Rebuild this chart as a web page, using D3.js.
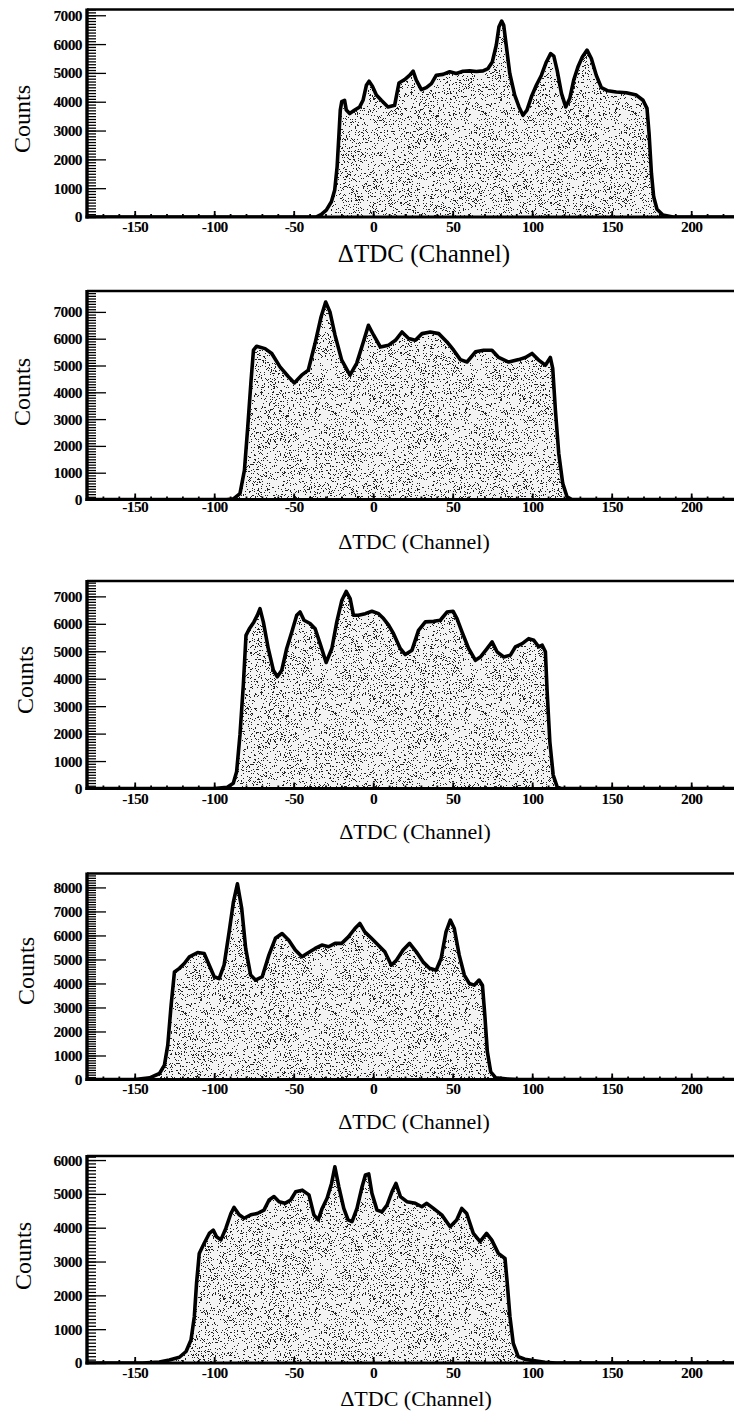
<!DOCTYPE html>
<html>
<head>
<meta charset="utf-8">
<script src="https://cdn.jsdelivr.net/npm/d3@7"></script>
<style>
  html, body { margin: 0; padding: 0; background: #fff; }
  svg { display: block; }
</style>
</head>
<body>
<div id="chart"></div>
<script>
// ---------------- DATA ----------------
const xTitle = "\u0394TDC (Channel)";
const yTitle = "Counts";
const xMajorTicks = [-150, -100, -50, 0, 50, 100, 150, 200];
const xDomain = [-180, 232];

// Panel 1
const ch1 = [-180,-36,-32.6,-29.5,-26.3,-24.2,-22.7,-21.5,-20.7,-19.8,-18,-16.9,-14.8,-11.6,-8.5,-6.4,-4.3,-2.6,-0.5,2,5.1,9.3,13.5,16.2,19.8,23,25.1,27.1,30.3,33.4,36.6,39.7,43.9,48.1,52.3,56.5,60.7,64.9,69.1,72.2,74.9,77.4,79.1,80.8,82.1,83.8,85.9,89,91.7,94.2,96.7,99.5,102.6,105.8,108.9,111.6,113.6,115.7,118.4,121.1,123.6,126.1,128.8,131.6,134.5,137.2,140.3,143.5,147.6,152.9,159.2,165.5,169.7,172.2,173.5,175,176.4,178.5,182.2,188.6,232];
const cnt1 = [0,0,90,240,530,940,1740,2900,3710,4000,4050,3710,3590,3710,3820,4050,4570,4710,4540,4230,4050,3820,3880,4650,4770,4920,5060,4750,4420,4490,4630,4920,4950,5040,4980,5060,5070,5050,5070,5150,5380,5960,6600,6800,6650,5900,4980,4230,3820,3530,3710,4170,4570,4920,5380,5670,5580,5090,4290,3820,4110,4750,5210,5560,5790,5500,4920,4490,4380,4340,4310,4230,4050,3770,2900,1510,700,270,70,0,0];
const yTicks1 = [0,1000,2000,3000,4000,5000,6000,7000];
const yMax1 = 7200;

// Panel 2
const ch2 = [-180,-92,-87.7,-83.8,-81,-78.9,-76.8,-75.3,-73.3,-68,-63.8,-58.6,-53.3,-49.6,-45,-40.8,-36.6,-32.8,-29.9,-27.2,-24,-19.8,-14.6,-10.4,-6.2,-3,0.3,4.5,9.7,14,18.1,22.3,26.5,30.7,35.9,41.2,46.4,50.6,54.8,59,64.3,69.5,74.7,78.9,85.2,91.5,95.7,99.9,104.1,108.3,111.4,112.9,114.6,116.7,119.2,121.9,125,232];
const cnt2 = [0,0,30,220,1090,2710,4450,5570,5720,5630,5450,4950,4580,4350,4640,4830,5820,6810,7370,7000,6130,5200,4640,5080,5880,6500,6130,5690,5760,5940,6250,6010,5940,6190,6250,6190,5880,5570,5220,5130,5510,5570,5570,5300,5130,5220,5300,5450,5200,5010,5300,4890,3330,1720,600,100,0,0];
const yTicks2 = [0,1000,2000,3000,4000,5000,6000,7000];
const yMax2 = 7780;

// Panel 3
const ch3 = [-180,-100,-92,-88,-85.9,-83.8,-81.7,-80,-77.9,-75,-72.9,-71.2,-69.1,-66,-62.8,-60.3,-57.5,-54.4,-51.2,-48.1,-46,-43.5,-39.7,-36.5,-33.4,-29.6,-26,-22.9,-19.7,-17,-14.5,-12.4,-9.3,-5,-0.8,3.4,6.5,9.7,12.8,17,20.2,24.4,28.5,32.8,38,42.2,46.4,50.2,52.7,55.9,60,64.3,67.4,71.6,74.8,77.9,82.1,86.3,89.4,93.7,97.8,101,104.1,106.3,108.3,109.4,111.1,113.2,115.7,118,232];
const cnt3 = [0,0,40,190,610,1950,3760,5580,5820,6070,6310,6550,6070,5100,4310,4070,4310,5100,5700,6310,6430,6130,6010,5820,5280,4590,5100,6070,6860,7180,6920,6310,6310,6370,6460,6370,6190,5950,5640,5100,4880,5040,5760,6070,6090,6130,6430,6460,6190,5700,5100,4670,4790,5100,5340,4980,4790,4860,5160,5280,5460,5400,5160,5220,4980,3520,1700,490,60,0,0];
const yTicks3 = [0,1000,2000,3000,4000,5000,6000,7000];
const yMax3 = 7560;

// Panel 4
const ch4 = [-180,-150,-140.6,-134.4,-131.3,-129.2,-127.1,-125,-121.9,-118.8,-115.6,-110.4,-106.3,-103.1,-100,-96.9,-93.8,-90.6,-87.9,-85.4,-82.7,-80.2,-77.1,-74,-69.8,-65.6,-61.5,-57.3,-53.1,-49,-44.8,-40.6,-36.5,-32.3,-28.1,-24,-19.8,-15.6,-11.5,-8.4,-5.3,-1.1,3.1,7.3,11.4,14.6,18.8,22.9,27.1,31.3,35.4,39.6,42.7,45.8,48.5,51,54.1,57.3,60.4,63.5,66.6,68.7,70.2,71.8,73.9,77.1,84.6,92,232];
const cnt4 = [0,0,70,250,600,1430,3100,4480,4630,4830,5110,5290,5250,4760,4280,4200,4760,6150,7400,8150,7130,5460,4350,4140,4280,5180,5880,6080,5800,5390,5110,5290,5460,5600,5530,5670,5670,5940,6290,6500,6150,5880,5600,5320,4760,4970,5390,5670,5320,4900,4630,4550,5040,6150,6640,6290,5180,4350,4000,3930,4140,3930,2680,1150,320,70,20,0,0];
const yTicks4 = [0,1000,2000,3000,4000,5000,6000,7000,8000];
const yMax4 = 8580;

// Panel 5
const ch5 = [-180,-145,-134.5,-128.2,-121.9,-117.7,-114.6,-112.5,-111.1,-109.4,-106.3,-103.1,-100.6,-98.5,-95.8,-92.7,-89.5,-87.5,-84.3,-81.2,-77,-72.9,-68.7,-65.5,-62.4,-59.2,-55.5,-51.9,-48.8,-44.6,-40.4,-37.3,-34.6,-32.1,-29,-26.2,-24.1,-21.6,-18.5,-15.8,-13.3,-10.2,-7,-4.9,-2.8,-0.8,2.4,5.5,8.7,11.8,14.3,17.1,21.2,26.5,30.6,33.7,37.9,43.1,48.4,52.5,55.7,58.8,63,67.2,71.3,74.5,78.7,82.9,84.3,86,88.1,91.2,95.4,100.6,108,115,232];
const cnt5 = [0,0,30,90,170,340,680,1370,2360,3240,3540,3830,3930,3730,3640,3980,4420,4600,4380,4280,4380,4420,4520,4820,4920,4770,4720,4820,5060,5110,4970,4380,4230,4570,4870,5310,5800,5210,4570,4230,4180,4570,5210,5560,5590,5020,4520,4470,4670,5060,5310,4920,4770,4720,4620,4720,4570,4380,4030,4230,4570,4420,3830,3590,3830,3640,3240,3090,2360,1370,580,190,110,70,20,0,0];
const yTicks5 = [0,1000,2000,3000,4000,5000,6000];
const yMax5 = 6120;

// ---------------- LAYOUT ----------------
const W = 734, H = 1412;
const plotLeft = 87, pxPerUnit = 1.59;
const plotRight = plotLeft + (xDomain[1] - xDomain[0]) * pxPerUnit;
const SERIF = "'Liberation Serif', 'Times New Roman', Times, serif";

const layout = [
  { top: 9.5,  base: 217,    titleX: 424, titleY: 253,  titleSize: 25, yLabX: 22, yLabY: 119,  lblDy: 15 },
  { top: 291,  base: 499.5,  titleX: 414, titleY: 541,  titleSize: 22, yLabX: 22, yLabY: 392,  lblDy: 12 },
  { top: 581,  base: 788.5,  titleX: 415, titleY: 831,  titleSize: 22, yLabX: 25, yLabY: 680,  lblDy: 15 },
  { top: 873.5,base: 1079.5, titleX: 414, titleY: 1121, titleSize: 22, yLabX: 26, yLabY: 971,  lblDy: 14 },
  { top: 1156, base: 1363,   titleX: 416, titleY: 1398, titleSize: 22, yLabX: 23, yLabY: 1256, lblDy: 15 }
];

const series = [
  { ch: ch1, cnt: cnt1, yTicks: yTicks1, yMax: yMax1 },
  { ch: ch2, cnt: cnt2, yTicks: yTicks2, yMax: yMax2 },
  { ch: ch3, cnt: cnt3, yTicks: yTicks3, yMax: yMax3 },
  { ch: ch4, cnt: cnt4, yTicks: yTicks4, yMax: yMax4 },
  { ch: ch5, cnt: cnt5, yTicks: yTicks5, yMax: yMax5 }
];

const svg = d3.select("#chart").append("svg")
  .attr("width", W).attr("height", H)
  .attr("viewBox", `0 0 ${W} ${H}`);
svg.append("rect").attr("width", W).attr("height", H).attr("fill", "#fff");

// stipple texture (deterministic)
const defs = svg.append("defs");
const tile = 150;
const pat = defs.append("pattern").attr("id", "stipple")
  .attr("patternUnits", "userSpaceOnUse")
  .attr("width", tile).attr("height", tile);
pat.append("rect").attr("width", tile).attr("height", tile).attr("fill", "#f3f3f3");
let seed = 987654321;
function lcg() { seed = (Math.imul(seed, 1664525) + 1013904223) >>> 0; return seed / 4294967296; }
let dStr = "";
const nDots = Math.round(tile * tile * 0.14);
for (let i = 0; i < nDots; i++) {
  const px = Math.floor(lcg() * tile), py = Math.floor(lcg() * tile);
  dStr += `M${px} ${py}h1v1h-1z`;
}
pat.append("path").attr("d", dStr).attr("fill", "#222");

const x = d3.scaleLinear().domain(xDomain).range([plotLeft, plotRight]);
const xMinor = d3.range(-180, 233, 10);

function styleLabels(sel, size) {
  sel.selectAll("text")
    .style("font-family", SERIF)
    .style("font-size", size + "px")
    .style("font-weight", "bold")
    .style("letter-spacing", "-0.6px")
    .attr("fill", "#000");
}

series.forEach((s, i) => {
  const L = layout[i];
  const y = d3.scaleLinear().domain([0, s.yMax]).range([L.base, L.top]);
  const pts = s.ch.map((c, k) => [c, s.cnt[k]]);
  const g = svg.append("g");

  const clipId = "clip" + i;
  defs.append("clipPath").attr("id", clipId)
    .append("rect").attr("x", plotLeft).attr("y", L.top)
    .attr("width", plotRight - plotLeft).attr("height", L.base - L.top);

  const area = d3.area().x(d => x(d[0])).y0(L.base).y1(d => y(d[1]));
  const line = d3.line().x(d => x(d[0])).y(d => y(d[1]));

  const pg = g.append("g").attr("clip-path", `url(#${clipId})`);
  pg.append("path").datum(pts).attr("d", area).attr("fill", "url(#stipple)");
  pg.append("path").datum(pts).attr("d", line)
    .attr("fill", "none").attr("stroke", "#000").attr("stroke-width", 3.6)
    .attr("stroke-linejoin", "round");

  // y ticks (inward)
  const yMinor = d3.range(0, s.yMax + 1, 100);
  const ya1 = g.append("g").attr("transform", `translate(${plotLeft},0)`)
    .call(d3.axisRight(y).tickValues(yMinor).tickSize(9).tickFormat(""));
  const ya2 = g.append("g").attr("transform", `translate(${plotLeft},0)`)
    .call(d3.axisRight(y).tickValues(s.yTicks).tickSize(19).tickFormat(""));
  const ya3 = g.append("g").attr("transform", `translate(${plotLeft},0)`)
    .call(d3.axisLeft(y).tickValues(s.yTicks).tickSize(0).tickPadding(5).tickFormat(d => String(d)));
  [ya1, ya2, ya3].forEach(a => { a.select(".domain").remove(); a.selectAll("line").attr("stroke", "#000").attr("stroke-width", 1.3); });
  styleLabels(ya3, 15.5);

  // x ticks (inward)
  const xa1 = g.append("g").attr("transform", `translate(0,${L.base})`)
    .call(d3.axisTop(x).tickValues(xMinor).tickSize(3).tickFormat(""));
  const xa2 = g.append("g").attr("transform", `translate(0,${L.base})`)
    .call(d3.axisTop(x).tickValues(xMajorTicks).tickSize(6).tickFormat(""));
  const xa3 = g.append("g").attr("transform", `translate(0,${L.base})`)
    .call(d3.axisBottom(x).tickValues(xMajorTicks).tickSize(0).tickPadding(L.lblDy - 11).tickFormat(d => String(d)));
  [xa1, xa2, xa3].forEach(a => { a.select(".domain").remove(); a.selectAll("line").attr("stroke", "#000").attr("stroke-width", 1.8); });
  styleLabels(xa3, 15.5);

  // frame: left, bottom, top
  g.append("line").attr("x1", plotLeft).attr("x2", plotLeft).attr("y1", L.top - 1).attr("y2", L.base + 1.5)
    .attr("stroke", "#000").attr("stroke-width", 3.4);
  g.append("line").attr("x1", plotLeft - 1.5).attr("x2", plotRight).attr("y1", L.base).attr("y2", L.base)
    .attr("stroke", "#000").attr("stroke-width", 3.2);
  g.append("line").attr("x1", plotLeft).attr("x2", plotRight).attr("y1", L.top).attr("y2", L.top)
    .attr("stroke", "#000").attr("stroke-width", 2.4);

  // titles
  g.append("text").attr("x", L.titleX).attr("y", L.titleY)
    .attr("text-anchor", "middle").attr("dominant-baseline", "central")
    .style("font-family", SERIF).style("font-size", L.titleSize + "px")
    .attr("fill", "#000").text(xTitle);
  g.append("text").attr("transform", `translate(${L.yLabX},${L.yLabY}) rotate(-90)`)
    .attr("text-anchor", "middle").attr("dominant-baseline", "central")
    .style("font-family", SERIF).style("font-size", "24px")
    .attr("fill", "#000").text(yTitle);
});
</script>
</body>
</html>
